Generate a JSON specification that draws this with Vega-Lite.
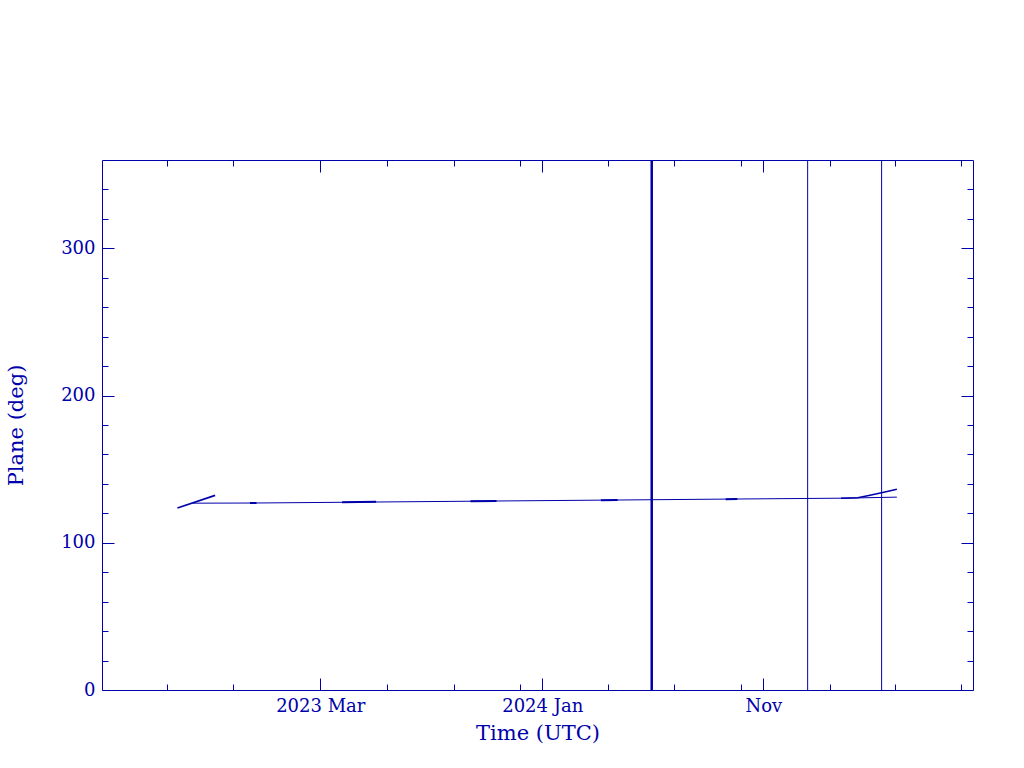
{
  "$schema": "https://vega.github.io/schema/vega-lite/v6.json",
  "width": 871,
  "height": 530,
  "autosize": {"type": "none"},
  "padding": {"left": 102, "top": 160, "right": 51, "bottom": 78},
  "background": "white",
  "config": {
    "view": {"stroke": "#0000AA", "strokeWidth": 1},
    "axis": {
      "domain": false,
      "grid": false,
      "tickColor": "#0000AA",
      "tickWidth": 1,
      "labelColor": "#0000AA",
      "titleColor": "#0000AA",
      "labelFont": "DejaVu Serif",
      "titleFont": "DejaVu Serif",
      "labelFontSize": 18,
      "titleFontSize": 21,
      "titleFontWeight": "normal"
    }
  },
  "datasets": {
    "main": [
      {"t": "2022-09-06", "v": 126.9},
      {"t": "2022-11-28", "v": 127.0},
      {"t": "2023-04-24", "v": 127.6},
      {"t": "2023-10-12", "v": 128.3},
      {"t": "2024-04-02", "v": 129.0},
      {"t": "2024-09-18", "v": 129.7},
      {"t": "2025-02-20", "v": 130.3},
      {"t": "2025-05-04", "v": 131.0}
    ],
    "segs": [
      {"seg": "a", "t": "2022-08-16", "v": 123.6},
      {"seg": "a", "t": "2022-10-07", "v": 132.2},
      {"seg": "b", "t": "2022-11-24", "v": 127.0},
      {"seg": "b", "t": "2022-12-03", "v": 127.1},
      {"seg": "c", "t": "2023-03-31", "v": 127.5},
      {"seg": "c", "t": "2023-05-17", "v": 127.8},
      {"seg": "d", "t": "2023-09-24", "v": 128.2},
      {"seg": "d", "t": "2023-10-30", "v": 128.4},
      {"seg": "e", "t": "2024-03-22", "v": 128.9},
      {"seg": "e", "t": "2024-04-14", "v": 129.1},
      {"seg": "f", "t": "2024-09-10", "v": 129.6},
      {"seg": "f", "t": "2024-09-26", "v": 129.8},
      {"seg": "z", "t": "2025-02-16", "v": 130.2},
      {"seg": "z", "t": "2025-03-11", "v": 130.6},
      {"seg": "z", "t": "2025-03-28", "v": 132.3},
      {"seg": "z", "t": "2025-04-16", "v": 134.3},
      {"seg": "z", "t": "2025-05-04", "v": 136.3}
    ],
    "rules": [
      {"t": "2024-05-31", "kind": "thick"},
      {"t": "2025-01-01", "kind": "thin"},
      {"t": "2025-04-13", "kind": "thin"}
    ]
  },
  "resolve": {"axis": {"x": "independent", "y": "independent"}},
  "layer": [
    {
      "data": {"name": "main"},
      "mark": {"type": "line", "color": "#0000AA", "strokeWidth": 1, "clip": true},
      "encoding": {
        "x": {
          "field": "t", "type": "temporal",
          "scale": {"type": "utc", "domain": [{"year": 2022, "month": 5, "date": 4, "utc": true}, {"year": 2025, "month": 8, "date": 17, "utc": true}]},
          "axis": {
            "orient": "bottom",
            "title": "Time (UTC)",
            "values": [
              {"year": 2023, "month": 3, "date": 1, "utc": true},
              {"year": 2024, "month": 1, "date": 1, "utc": true},
              {"year": 2024, "month": 11, "date": 1, "utc": true}
            ],
            "labelExpr": "utcmonth(datum.value) == 10 ? 'Nov' : utcFormat(datum.value, '%Y %b')",
            "tickSize": -12,
            "labelPadding": 19,
            "titlePadding": 7
          }
        },
        "y": {
          "field": "v", "type": "quantitative",
          "scale": {"domain": [0, 360], "nice": false, "zero": true},
          "axis": {
            "orient": "left",
            "title": "Plane (deg)",
            "values": [0, 100, 200, 300],
            "tickSize": -12,
            "labelPadding": 19,
            "titlePadding": 34
          }
        }
      }
    },
    {
      "data": {"name": "segs"},
      "transform": [{"filter": "datum.seg != 'a' && datum.seg != 'z'"}],
      "mark": {"type": "line", "color": "#0000AA", "strokeWidth": 2, "clip": true},
      "encoding": {
        "detail": {"field": "seg"},
        "x": {
          "field": "t", "type": "temporal",
          "axis": {
            "orient": "bottom", "title": null, "labels": false,
            "tickSize": -6,
            "values": [
              {"year": 2022, "month": 8, "date": 1, "utc": true},
              {"year": 2022, "month": 11, "date": 1, "utc": true},
              {"year": 2023, "month": 6, "date": 1, "utc": true},
              {"year": 2023, "month": 9, "date": 1, "utc": true},
              {"year": 2023, "month": 12, "date": 1, "utc": true},
              {"year": 2024, "month": 4, "date": 1, "utc": true},
              {"year": 2024, "month": 7, "date": 1, "utc": true},
              {"year": 2024, "month": 10, "date": 1, "utc": true},
              {"year": 2025, "month": 2, "date": 1, "utc": true},
              {"year": 2025, "month": 5, "date": 1, "utc": true},
              {"year": 2025, "month": 8, "date": 1, "utc": true}
            ]
          }
        },
        "y": {
          "field": "v", "type": "quantitative",
          "axis": {
            "orient": "left", "title": null, "labels": false,
            "tickSize": -6,
            "values": [20, 40, 60, 80, 120, 140, 160, 180, 220, 240, 260, 280, 320, 340]
          }
        }
      }
    },
    {
      "data": {"name": "segs"},
      "transform": [{"filter": "datum.seg == 'a'"}],
      "mark": {"type": "line", "color": "#0000AA", "strokeWidth": 1.6, "clip": true},
      "encoding": {
        "x": {
          "field": "t", "type": "temporal",
          "axis": {
            "orient": "top", "title": null, "labels": false,
            "tickSize": -12,
            "values": [
              {"year": 2023, "month": 3, "date": 1, "utc": true},
              {"year": 2024, "month": 1, "date": 1, "utc": true},
              {"year": 2024, "month": 11, "date": 1, "utc": true}
            ]
          }
        },
        "y": {
          "field": "v", "type": "quantitative",
          "axis": {
            "orient": "right", "title": null, "labels": false,
            "tickSize": -12,
            "values": [0, 100, 200, 300]
          }
        }
      }
    },
    {
      "data": {"name": "segs"},
      "transform": [{"filter": "datum.seg == 'z'"}],
      "mark": {"type": "line", "color": "#0000AA", "strokeWidth": 1.6, "clip": true},
      "encoding": {
        "x": {
          "field": "t", "type": "temporal",
          "axis": {
            "orient": "top", "title": null, "labels": false,
            "tickSize": -6,
            "values": [
              {"year": 2022, "month": 8, "date": 1, "utc": true},
              {"year": 2022, "month": 11, "date": 1, "utc": true},
              {"year": 2023, "month": 6, "date": 1, "utc": true},
              {"year": 2023, "month": 9, "date": 1, "utc": true},
              {"year": 2023, "month": 12, "date": 1, "utc": true},
              {"year": 2024, "month": 4, "date": 1, "utc": true},
              {"year": 2024, "month": 7, "date": 1, "utc": true},
              {"year": 2024, "month": 10, "date": 1, "utc": true},
              {"year": 2025, "month": 2, "date": 1, "utc": true},
              {"year": 2025, "month": 5, "date": 1, "utc": true},
              {"year": 2025, "month": 8, "date": 1, "utc": true}
            ]
          }
        },
        "y": {
          "field": "v", "type": "quantitative",
          "axis": {
            "orient": "right", "title": null, "labels": false,
            "tickSize": -6,
            "values": [20, 40, 60, 80, 120, 140, 160, 180, 220, 240, 260, 280, 320, 340]
          }
        }
      }
    },
    {
      "data": {"name": "rules"},
      "transform": [{"filter": "datum.kind == 'thick'"}],
      "mark": {"type": "rule", "color": "#0000AA", "strokeWidth": 2.5},
      "encoding": {
        "x": {"field": "t", "type": "temporal", "axis": null}
      }
    },
    {
      "data": {"name": "rules"},
      "transform": [{"filter": "datum.kind == 'thin'"}],
      "mark": {"type": "rule", "color": "#0000AA", "strokeWidth": 1},
      "encoding": {
        "x": {"field": "t", "type": "temporal", "axis": null}
      }
    }
  ]
}
